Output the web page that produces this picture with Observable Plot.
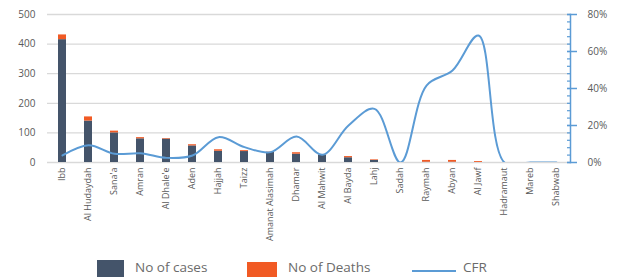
<!DOCTYPE html>
<html>
<head>
<meta charset="utf-8">
<script src="https://cdn.jsdelivr.net/npm/d3@7"></script>
<script src="https://cdn.jsdelivr.net/npm/@observablehq/plot@0.6"></script>
<style>
  html, body { margin: 0; padding: 0; background: #fff; }
  body { width: 617px; height: 278px; overflow: hidden; position: relative; font-family: "Open Sans", sans-serif; }
  #legend { position: absolute; left: 0; top: 256px; width: 617px; height: 22px; }
  .sw { position: absolute; }
  .lt { position: absolute; font-size: 13.5px; color: #6b6b6b; line-height: 18px; }
</style>
</head>
<body>
<div id="chart"></div>
<div id="legend">
  <div class="sw" style="left:97px;top:4px;width:27px;height:17px;background:#44546A"></div>
  <div class="lt" style="left:135px;top:2px">No of cases</div>
  <div class="sw" style="left:247px;top:6px;width:30px;height:15px;background:#F15A24"></div>
  <div class="lt" style="left:288px;top:2px">No of Deaths</div>
  <div class="sw" style="left:412px;top:14px;width:44px;height:2px;background:#5B9BD5"></div>
  <div class="lt" style="left:463px;top:2px">CFR</div>
</div>
<script>
const categories = ["Ibb", "Al Hudaydah", "Sana'a", "Amran", "Al Dhale'e", "Aden", "Hajjah", "Taizz",
  "Amanat Alasimah", "Dhamar", "Al Mahwit", "Al Bayda", "Lahj", "Sadah", "Raymah", "Abyan",
  "Al Jawf", "Hadramaut", "Mareb", "Shabwab"];
const cases  = [415, 140, 100, 80, 79, 56, 38, 37, 34, 28, 25, 16, 7, 0, 1, 1, 0, 0, 0, 0];
const deaths = [16, 14, 6, 4, 2, 4, 5, 3, 1, 5, 1, 4, 2, 0, 6, 6, 3, 0, 0, 0];
const cfr    = [3.8, 9.3, 4.7, 5.0, 2.5, 3.8, 13.7, 8.3, 5.6, 14.0, 4.2, 20.0, 29.0, 0, 41.6, 49.7, 68.6, 0, 0, 0];
const leftTicks = [0, 100, 200, 300, 400, 500];
const rightMajor = [0, 20, 40, 60, 80];
const rightMinor = d3.range(0, 81, 4);
const series = ["No of cases", "No of Deaths"];
const colors = ["#44546A", "#F15A24"];
const lineColor = "#5B9BD5";
</script>
<script>
const yMax = 500, pMax = 80;
const toY = p => p * yMax / pMax;
const bars = [];
categories.forEach((c, i) => {
  bars.push({region: c, type: series[0], value: cases[i]});
  bars.push({region: c, type: series[1], value: deaths[i]});
});
const line = categories.map((c, i) => ({region: c, v: toY(cfr[i])}));

const chart = Plot.plot({
  width: 617,
  height: 245,
  marginLeft: 47,
  marginRight: 47,
  marginTop: 14,
  marginBottom: 83,
  style: {fontFamily: "Open Sans, sans-serif", color: "#595959", background: "#fff"},
  x: {domain: categories, paddingInner: 0.7, paddingOuter: 0.35, label: null},
  y: {domain: [0, yMax], label: null},
  color: {domain: series, range: colors},
  marks: [
    Plot.gridY(leftTicks, {stroke: "#d9d9d9", strokeOpacity: 1, strokeWidth: 1.3}),
    Plot.barY(bars, {x: "region", y: "value", fill: "type", order: series}),
    Plot.line(line, {x: "region", y: "v", stroke: lineColor, strokeWidth: 2, curve: "catmull-rom", clip: true}),
    Plot.axisY({anchor: "left", ticks: leftTicks, tickSize: 0, tickPadding: 12, fontSize: 10, label: null}),
    Plot.axisX({tickRotate: -90, tickSize: 0, tickPadding: 5, fontSize: 9, label: null}),
    Plot.frame({anchor: "right", stroke: lineColor, strokeWidth: 1.5}),
    Plot.axisY({anchor: "right", ticks: rightMajor.map(toY), tickSize: 10, dx: -4, tickFormat: () => "", stroke: lineColor, strokeWidth: 1.5, label: null}),
    Plot.axisY({anchor: "right", ticks: rightMinor.map(toY), tickSize: 4, dx: -4, tickFormat: () => "", stroke: lineColor, strokeWidth: 1.2, label: null}),
    Plot.axisY({anchor: "right", ticks: rightMajor.map(toY), tickSize: 0, tickPadding: 17, fontSize: 10, tickFormat: d => Math.round(d * pMax / yMax) + "%", label: null})
  ]
});
document.getElementById("chart").appendChild(chart);
</script>
</body>
</html>
